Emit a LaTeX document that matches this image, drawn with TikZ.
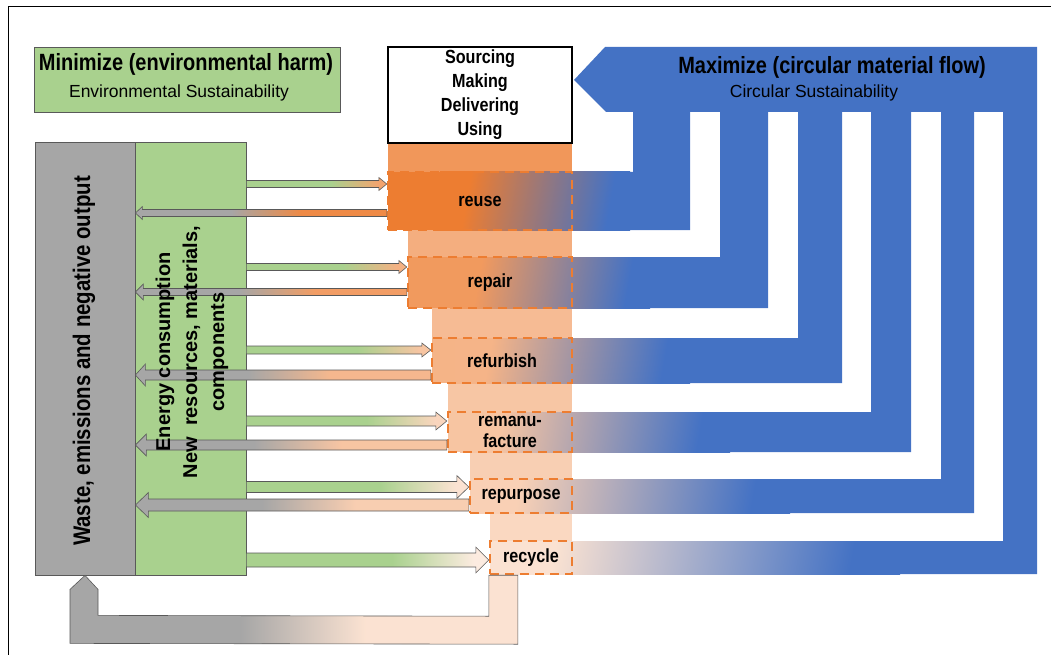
\documentclass[tikz,border=0pt]{standalone}
\usepackage{fontspec}
\setmainfont{Liberation Sans}
\newfontfamily\narrowsans[FakeStretch=0.85]{Liberation Sans}
\usetikzlibrary{calc}

\definecolor{leafgreen}{HTML}{A9D18E}
\definecolor{ashgray}{HTML}{A6A6A6}
\definecolor{flowblue}{HTML}{4472C4}
\definecolor{rustorange}{HTML}{ED7D31}
\definecolor{edgegray}{HTML}{595959}

% colours that the shadings read when they are used
\colorlet{inA}{leafgreen}\colorlet{inB}{rustorange}
\colorlet{outA}{ashgray}\colorlet{outB}{rustorange}
\colorlet{bandA}{rustorange}\colorlet{bandB}{flowblue}
\pgfdeclarehorizontalshading[inA,inB]{inflow}{100bp}{color(0bp)=(inA); color(55bp)=(inA); color(72bp)=(inB); color(100bp)=(inB)}
\pgfdeclarehorizontalshading[outA,outB]{outflow}{100bp}{color(0bp)=(outA); color(44bp)=(outA); color(58bp)=(outB); color(100bp)=(outB)}
\pgfdeclarehorizontalshading[bandA,bandB]{bandflow}{100bp}{color(0bp)=(bandA); color(30bp)=(bandA); color(72bp)=(bandB); color(100bp)=(bandB)}

\begin{document}
\begin{tikzpicture}[
  x=1pt, y=-1pt, % pixel grid of the reference, y downwards
  panel/.style={draw=edgegray, line width=0.8pt, inner sep=0pt},
  stagebox/.style={draw=rustorange, line width=2.4pt, dash pattern=on 9pt off 6pt, inner sep=0pt, align=center,
    font=\narrowsans\bfseries\fontsize{19}{21}\selectfont},
  flowedge/.style={draw=edgegray, line width=0.6pt},
  headtext/.style={font=\narrowsans\bfseries\fontsize{23.5}{28}\selectfont},
  subtext/.style={font=\fontsize{17.5}{21}\selectfont}
]
  \useasboundingbox (0,0) rectangle (1051,655);
  \draw[line width=1pt] (8,655) -- (8,7) -- (1051,7);

  % block arrow: tail, tip, half body, half head, head length, shading
  \newcommand{\blockarrow}[6]{%
    \shadedraw[flowedge, shading=#6] let \p1=(#1), \p2=(#2), \n1={ifthenelse(\x2>\x1,1,-1)} in
      ({\x1},{\y1+#3}) -- ({\x2-(\n1)*#5},{\y1+#3}) -- ({\x2-(\n1)*#5},{\y1+#4}) -- ({\x2},{\y1})
      -- ({\x2-(\n1)*#5},{\y1-#4}) -- ({\x2-(\n1)*#5},{\y1-#3}) -- ({\x1},{\y1-#3}) -- cycle;
  }
  \newcommand{\inarrow}[6]{\colorlet{inB}{#6}\blockarrow{energy.east |- 0,#2}{#1.west |- 0,#2}{#3}{#4}{#5}{inflow}}
  \newcommand{\outarrow}[6]{\colorlet{outB}{#6}\blockarrow{#1.west |- 0,#2}{waste.east |- 0,#2}{#3}{#4}{#5}{outflow}}

  % stepped orange column (fillers and stage fills)
  \foreach \x/\ya/\yb/\tint in {388/142/172/80, 388/172/230/100, 408/230/257/62, 408/257/308/78,
      432/308/338/52, 432/338/383/58, 448/383/412/44, 448/412/452/45,
      470/452/479/37, 470/479/513/36, 490/513/541/30, 490/541/574/22}
    \fill[rustorange!\tint] (\x,\ya) rectangle (572,\yb);

  % circular flow: header and the six return loops
  \fill[flowblue] (574,80) -- (605,47) -- (1037,47) -- (1037,112) -- (606,112) -- cycle;
  \foreach \ya/\yb/\xl/\xr in {172/230/633/690, 257/308/720/768, 338/383/798/842,
      412/452/871/911, 479/513/941/974, 541/574/1003/1037}
    \fill[flowblue] (572,\ya) rectangle (\xr,\yb) (\xl,112) rectangle (\xr,\yb);
  \foreach \xs/\ya/\yb/\xg/\tint in {440/172/230/630/100, 450/257/308/650/78, 455/338/383/690/58,
      460/412/452/730/45, 470/479/513/790/36, 490/541/574/900/22} {
    \colorlet{bandA}{rustorange!\tint}
    \shade[shading=bandflow, shading angle=-10] (\xs,\ya) rectangle (\xg,\yb);
  }

  % boxes
  \node[panel, fill=ashgray, minimum width=100pt, minimum height=433pt] (waste) at (85,358.5) {};
  \node[panel, fill=leafgreen, minimum width=111pt, minimum height=433pt] (energy) at (190.5,358.5) {};
  \node[panel, fill=leafgreen, minimum width=306pt, minimum height=65pt] (minimize) at (187,79.5) {};
  \node[draw, line width=2pt, fill=white, minimum width=184pt, minimum height=96pt, align=center,
    font=\narrowsans\bfseries\fontsize{19}{24}\selectfont] (sourcing) at (480,95) {Sourcing\\Making\\Delivering\\Using};

  \node[stagebox, minimum width=184pt, minimum height=58pt] (reuse) at (480,201) {reuse};
  \node[stagebox, minimum width=164pt, minimum height=51pt] (repair) at (490,282.5) {repair};
  \node[stagebox, minimum width=140pt, minimum height=45pt] (refurbish) at (502,360.5) {refurbish};
  \node[stagebox, minimum width=124pt, minimum height=40pt] (remanufacture) at (510,432) {remanu-\\facture};
  \node[stagebox, minimum width=102pt, minimum height=34pt] (repurpose) at (521,496) {repurpose};
  \node[stagebox, minimum width=82pt, minimum height=33pt] (recycle) at (531,557.5) {recycle};

  % return from recycle to waste
  \colorlet{outB}{rustorange!22}
  \shadedraw[flowedge, shading=outflow] (recycle.south west) -- ($(recycle.south west)+(0,41)$)
    -- ($(waste.south)+(13,40)$) -- ($(waste.south)+(13,14)$) -- (waste.south)
    -- ($(waste.south)+(-15,14)$) -- ($(waste.south)+(-15,68)$) -- ($(recycle.south west)+(29,69)$)
    -- ($(recycle.south west)+(29,0)$) -- cycle;

  % inputs and outputs of each stage
  \inarrow{reuse}{184}{3.5pt}{6.5pt}{8pt}{rustorange!70}
  \outarrow{reuse}{213}{3.5pt}{6.5pt}{7pt}{rustorange!90}
  \inarrow{repair}{267}{3.5pt}{6.5pt}{8pt}{rustorange!60}
  \outarrow{repair}{292}{3.5pt}{8pt}{8pt}{rustorange!75}
  \inarrow{refurbish}{350}{4pt}{7pt}{9pt}{rustorange!45}
  \outarrow{refurbish}{375}{5pt}{11pt}{10pt}{rustorange!55}
  \inarrow{remanufacture}{421}{5pt}{9pt}{11pt}{rustorange!32}
  \outarrow{remanufacture}{445}{5pt}{11pt}{11pt}{rustorange!45}
  \inarrow{repurpose}{487}{5.5pt}{11.5pt}{12pt}{rustorange!22}
  \outarrow{repurpose}{505}{6pt}{12.5pt}{13pt}{rustorange!38}
  \inarrow{recycle}{560}{7pt}{13pt}{13pt}{rustorange!15}

  % texts
  \node[headtext] (mintitle) at (186,64) {Minimize (environmental harm)};
  \node[subtext] (minsub) at (179,93) {Environmental Sustainability};
  \node[headtext] (maxtitle) at (832,67) {Maximize (circular material flow)};
  \node[subtext] (maxsub) at (814,93) {Circular Sustainability};
  \node[rotate=90, font=\narrowsans\bfseries\fontsize{24}{28}\selectfont] (wastetext) at (84,361)
    {Waste, emissions and negative output};
  \node[rotate=90, align=center, font=\bfseries\fontsize{20}{27}\selectfont] (energytext) at (192,352)
    {Energy consumption\\New\ \ resources, materials,\\components};
\end{tikzpicture}
\end{document}
